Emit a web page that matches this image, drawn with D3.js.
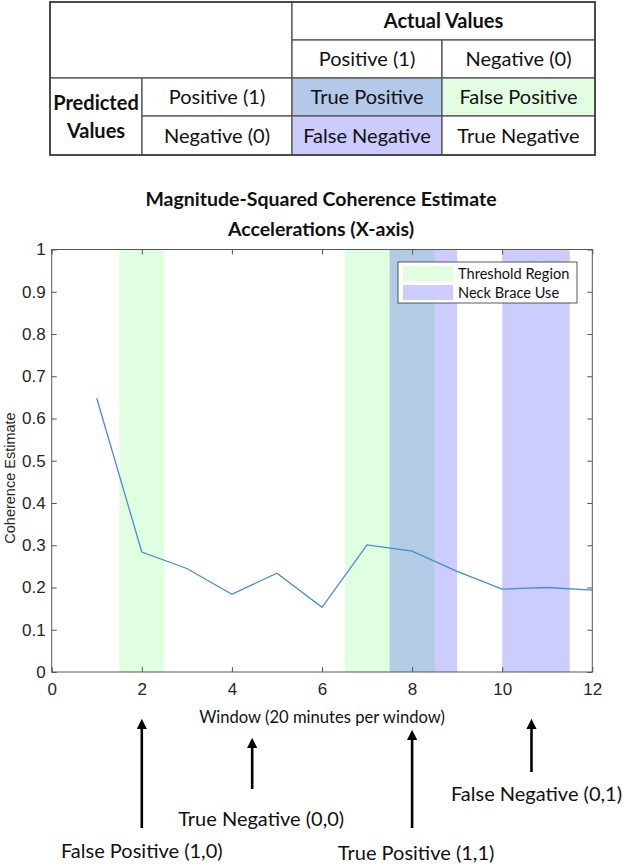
<!DOCTYPE html>
<html>
<head>
<meta charset="utf-8">
<script src="https://cdn.jsdelivr.net/npm/d3@7"></script>
<style>
  body { margin: 0; background: #fff; }
  svg { display: block; }
</style>
</head>
<body>
<div id="chart"></div>
<script>
// Confusion matrix labels
const actualHeader = "Actual Values";
const predictedHeader = ["Predicted", "Values"];
const classLabels = ["Positive (1)", "Negative (0)"];
const outcomeCells = [
    ["True Positive", "False Positive"],
    ["False Negative", "True Negative"]
];

// Coherence series
const windows = [1, 2, 3, 4, 5, 6, 7, 8, 9, 10, 11, 12];
const coherence = [0.648, 0.284, 0.245, 0.184, 0.234, 0.153, 0.301, 0.286, 0.238, 0.196, 0.200, 0.194];

// Shaded regions (in window units)
const thresholdRegions = [[1.5, 2.5], [6.5, 8.5]];
const braceRegions = [[7.5, 9], [10, 11.5]];

// Tick labels
const xTicks = [0, 2, 4, 6, 8, 10, 12];
const yTicks = [0, 0.1, 0.2, 0.3, 0.4, 0.5, 0.6, 0.7, 0.8, 0.9, 1];

// Arrows under the x axis
const arrowWindows = [2, 4.45, 8, 10.65];
const arrowLabels = ["False Positive (1,0)", "True Negative (0,0)", "True Positive (1,1)", "False Negative (0,1)"];

const green = "#00ff00", blue = "#0000ff";
const calibri = "Lato, 'Open Sans', sans-serif";
const arial = "'Liberation Sans', Arial, sans-serif";

const svg = d3.select("#chart").append("svg")
    .attr("width", 625)
    .attr("height", 864);

// ---------- table ----------
const colX = [50, 142, 292, 442, 595];
const rowY = [2, 40, 78, 116, 155];
const table = svg.append("g");

function cell(c0, c1, r0, r1, text, opts = {}) {
    table.append("rect")
        .attr("x", colX[c0]).attr("y", rowY[r0])
        .attr("width", colX[c1] - colX[c0]).attr("height", rowY[r1] - rowY[r0])
        .attr("fill", opts.fill || "#fff")
        .attr("stroke", "#555")
        .attr("stroke-width", 1.3);
    const lines = Array.isArray(text) ? text : [text];
    const cx = (colX[c0] + colX[c1]) / 2;
    const cy = (rowY[r0] + rowY[r1]) / 2;
    lines.forEach((t, i) => {
        table.append("text")
            .attr("x", cx)
            .attr("y", cy + (i - (lines.length - 1) / 2) * 28)
            .attr("dy", "0.35em")
            .attr("text-anchor", "middle")
            .style("font-family", calibri)
            .style("font-size", "20px")
            .style("font-weight", opts.bold ? "bold" : "normal")
            .style("fill", "#111")
            .text(t);
    });
}

const cellFill = [["#b4c8e8", "#e2fde2"], ["#cbcbfc", "#fff"]];
cell(0, 2, 0, 2, "");
cell(2, 4, 0, 1, actualHeader, { bold: true });
cell(2, 3, 1, 2, classLabels[0]);
cell(3, 4, 1, 2, classLabels[1]);
cell(0, 1, 2, 4, predictedHeader, { bold: true });
classLabels.forEach((lab, r) => {
    cell(1, 2, 2 + r, 3 + r, lab);
    outcomeCells[r].forEach((t, c) => cell(2 + c, 3 + c, 2 + r, 3 + r, t, { fill: cellFill[r][c] }));
});
table.append("rect")
    .attr("x", colX[0]).attr("y", rowY[0])
    .attr("width", colX[4] - colX[0]).attr("height", rowY[4] - rowY[0])
    .attr("fill", "none").attr("stroke", "#444").attr("stroke-width", 1.8);

// ---------- chart ----------
const x = d3.scaleLinear().domain([0, 12]).range([51.7, 592.3]);
const y = d3.scaleLinear().domain([0, 1]).range([672, 249.5]);

const title = ["Magnitude-Squared Coherence Estimate", "Accelerations (X-axis)"];
title.forEach((t, i) => {
    svg.append("text")
        .attr("x", 321).attr("y", 206 + i * 30)
        .attr("text-anchor", "middle")
        .style("font-family", calibri)
        .style("font-size", "19.5px")
        .style("font-weight", "bold")
        .style("fill", "#111")
        .text(t);
});

const plot = svg.append("g");

plot.selectAll("rect.thresh")
    .data(thresholdRegions)
    .join("rect")
    .attr("class", "thresh")
    .attr("x", d => x(d[0]))
    .attr("width", d => x(d[1]) - x(d[0]))
    .attr("y", y(1))
    .attr("height", y(0) - y(1))
    .attr("fill", green)
    .attr("fill-opacity", 0.12);

plot.selectAll("rect.brace")
    .data(braceRegions)
    .join("rect")
    .attr("class", "brace")
    .attr("x", d => x(d[0]))
    .attr("width", d => x(d[1]) - x(d[0]))
    .attr("y", y(1))
    .attr("height", y(0) - y(1))
    .attr("fill", blue)
    .attr("fill-opacity", 0.2);

const line = d3.line()
    .x((d, i) => x(windows[i]))
    .y(d => y(d));

plot.append("path")
    .datum(coherence)
    .attr("d", line)
    .attr("fill", "none")
    .attr("stroke", "#4a8ccf")
    .attr("stroke-width", 1.3);

// axes (ticks pointing inward, box on)
const axisColor = "#555";
function styleAxis(g, showText) {
    g.select(".domain").remove();
    g.selectAll(".tick line").attr("stroke", axisColor);
    g.selectAll(".tick text")
        .style("font-family", arial)
        .style("font-size", "17px")
        .style("fill", "#262626")
        .style("display", showText ? null : "none");
}

svg.append("g")
    .attr("transform", `translate(0,${y(0)})`)
    .call(d3.axisBottom(x).tickValues(xTicks).tickFormat(d3.format("d")).tickSizeInner(-5).tickPadding(11))
    .call(g => styleAxis(g, true));
svg.append("g")
    .attr("transform", `translate(0,${y(1)})`)
    .call(d3.axisTop(x).tickValues(xTicks).tickSizeInner(-5))
    .call(g => styleAxis(g, false));
svg.append("g")
    .attr("transform", `translate(${x(0)},0)`)
    .call(d3.axisLeft(y).tickValues(yTicks).tickFormat(d => d === 0 || d === 1 ? d3.format("d")(d) : d3.format(".1f")(d)).tickSizeInner(-5).tickPadding(6))
    .call(g => styleAxis(g, true));
svg.append("g")
    .attr("transform", `translate(${x(12)},0)`)
    .call(d3.axisRight(y).tickValues(yTicks).tickSizeInner(-5))
    .call(g => styleAxis(g, false));

svg.append("rect")
    .attr("x", x(0)).attr("y", y(1))
    .attr("width", x(12) - x(0)).attr("height", y(0) - y(1))
    .attr("fill", "none")
    .attr("stroke", axisColor)
    .attr("stroke-width", 1);

svg.append("text")
    .attr("transform", `translate(10,478) rotate(-90)`)
    .attr("text-anchor", "middle")
    .attr("dy", "0.35em")
    .style("font-family", arial)
    .style("font-size", "14.5px")
    .style("fill", "#262626")
    .text("Coherence Estimate");

svg.append("text")
    .attr("x", 322).attr("y", 717)
    .attr("dy", "0.35em")
    .attr("text-anchor", "middle")
    .style("font-family", calibri)
    .style("font-size", "16.6px")
    .style("fill", "#111")
    .text("Window (20 minutes per window)");

// legend
const legend = svg.append("g").attr("transform", "translate(398,262)");
legend.append("rect")
    .attr("width", 179).attr("height", 41)
    .attr("fill", "#fff")
    .attr("stroke", "#333")
    .attr("stroke-width", 0.8);
const legendItems = [["Threshold Region", green, 0.12], ["Neck Brace Use", blue, 0.2]];
legendItems.forEach((d, i) => {
    legend.append("rect")
        .attr("x", 5).attr("y", 4 + i * 19)
        .attr("width", 50).attr("height", 15)
        .attr("fill", d[1]).attr("fill-opacity", d[2]);
    legend.append("text")
        .attr("x", 60).attr("y", 11.5 + i * 19)
        .attr("dy", "0.35em")
        .style("font-family", calibri)
        .style("font-size", "14.6px")
        .style("fill", "#111")
        .text(d[0]);
});

// arrows + labels
const defs = svg.append("defs");
defs.append("marker")
    .attr("id", "head")
    .attr("viewBox", "0 0 10 10")
    .attr("refX", 5).attr("refY", 5)
    .attr("markerWidth", 4).attr("markerHeight", 4)
    .attr("orient", "auto")
    .append("path")
    .attr("d", "M0,0 L10,5 L0,10 Z")
    .attr("fill", "#000");

const arrowLayout = [
    { tip: 718, tail: 828, ly: 851, dx: 0 },
    { tip: 737, tail: 789, ly: 819, dx: 9 },
    { tip: 729, tail: 828, ly: 853, dx: 4 },
    { tip: 718, tail: 772, ly: 794, dx: 5 }
];
arrowWindows.forEach((w, i) => {
    const a = arrowLayout[i];
    svg.append("line")
        .attr("x1", x(w)).attr("x2", x(w))
        .attr("y1", a.tail).attr("y2", a.tip + 6)
        .attr("stroke", "#000")
        .attr("stroke-width", 2.6)
        .attr("marker-end", "url(#head)");
    svg.append("text")
        .attr("x", x(w) + a.dx).attr("y", a.ly)
        .attr("dy", "0.35em")
        .attr("text-anchor", "middle")
        .style("font-family", calibri)
        .style("font-size", "20px")
        .style("fill", "#111")
        .text(arrowLabels[i]);
});
</script>
</body>
</html>
